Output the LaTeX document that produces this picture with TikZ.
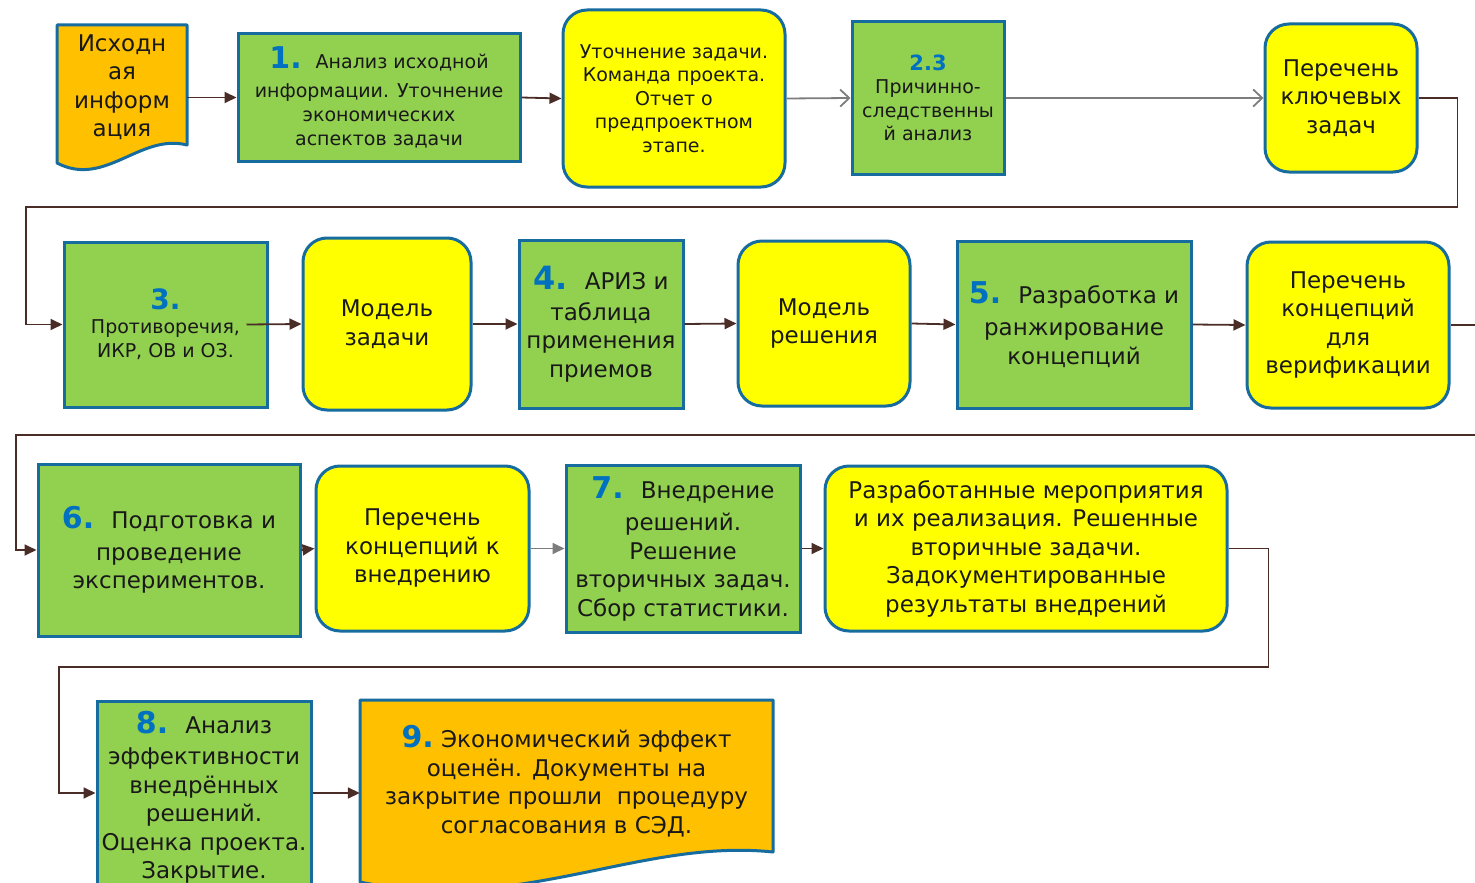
\documentclass[tikz,border=0pt]{standalone}
\usepackage{fontspec}
\setmainfont{DejaVu Sans}
\usetikzlibrary{arrows.meta,calc}

\definecolor{boxline}{RGB}{22,108,158}
\definecolor{stepgreen}{RGB}{146,208,80}
\definecolor{noteyellow}{RGB}{255,255,0}
\definecolor{docorange}{RGB}{255,192,0}
\definecolor{numblue}{RGB}{0,112,192}
\definecolor{linkbrown}{RGB}{75,45,40}
\definecolor{linkgray}{RGB}{125,125,125}
\definecolor{inktext}{RGB}{25,25,25}

% big blue step number
\newcommand{\stepno}[2][30]{{\fontsize{#1}{#1}\selectfont\bfseries\color{numblue}#2}}

\tikzset{
  x=1pt, y=-1pt,
  greenbox/.style={draw=boxline, line width=3pt, fill=stepgreen, align=center,
                   inner sep=2pt, text=inktext},
  yellowbox/.style={draw=boxline, line width=3pt, fill=noteyellow, align=center,
                    rounded corners=24pt, inner sep=2pt, text=inktext},
  docshape/.style={draw=boxline, line width=3pt, fill=docorange, line join=round},
  doctext/.style={align=center, inner sep=0pt, text=inktext},
  link/.style={draw=linkbrown, line width=1.8pt, -{Triangle[length=12pt,width=11pt]}},
  graylink/.style={draw=linkgray, line width=1.8pt, -{Straight Barb[length=9pt,width=17pt]}},
  grayfilled/.style={draw=linkgray, line width=1.8pt, -{Triangle[length=12pt,width=11pt]}},
  small/.style={font=\fontsize{19}{23.5}\selectfont},
  mid/.style={font=\fontsize{19}{24}\selectfont},
  big/.style={font=\fontsize{23}{28.5}\selectfont},
}

\begin{document}
\begin{tikzpicture}
\useasboundingbox (0,0) rectangle (1475,883);
\clip (0,0) rectangle (1475,883);

% ---------- row 1 ----------
\draw[docshape] (57,25) -- (187,25) -- (187,145)
  .. controls (140,133) and (105,188) .. (57,163) -- cycle;
\node[doctext, font=\fontsize{23}{28.5}\selectfont, minimum width=130pt] (d0) at (122,87)
  {Исходн\\ая\\информ\\ация};

\node[greenbox, mid, minimum width=282pt, minimum height=127pt] (b1) at (379,97.5)
  {\stepno{1.}~ Анализ исходной\\[5pt]информации. Уточнение\\экономических\\аспектов задачи};

\node[yellowbox, small, minimum width=222pt, minimum height=177pt] (u) at (674,98.5)
  {Уточнение задачи.\\Команда проекта.\\Отчет о\\предпроектном\\этапе.};

\node[greenbox, small, minimum width=152pt, minimum height=152pt] (b23) at (928,98)
  {\stepno[21]{2.3}\\Причинно-\\следственны\\й анализ};

\node[yellowbox, big, minimum width=152pt, minimum height=148pt] (k) at (1341,98)
  {Перечень\\ключевых\\задач};

% ---------- row 2 ----------
\node[greenbox, mid, minimum width=203pt, minimum height=165pt] (b3) at (165.5,324.5)
  {\stepno[28]{3.}\\Противоречия,\\ИКР, ОВ и ОЗ.};

\node[yellowbox, big, minimum width=168pt, minimum height=172pt] (mz) at (387,324)
  {Модель\\задачи};

\node[greenbox, big, minimum width=164pt, minimum height=168pt] (b4) at (601,324)
  {\stepno[32]{4.}~ АРИЗ и\\[2pt]таблица\\применения\\приемов};

\node[yellowbox, big, minimum width=172pt, minimum height=165pt] (mr) at (824,323.5)
  {Модель\\решения};

\node[greenbox, big, minimum width=234pt, minimum height=167pt] (b5) at (1074,324.5)
  {\stepno{5.}~ Разработка и\\[4pt]ранжирование\\концепций};

\node[yellowbox, big, minimum width=202pt, minimum height=166pt] (v) at (1348,325)
  {Перечень\\концепций\\для\\верификации};

% ---------- row 3 ----------
\node[greenbox, big, minimum width=262pt, minimum height=172pt] (b6) at (169,550)
  {\stepno{6.}~ Подготовка и\\[3pt]проведение\\экспериментов.};

\node[yellowbox, big, minimum width=213pt, minimum height=165pt] (kv) at (422.5,548.5)
  {Перечень\\концепций к\\внедрению};

\node[greenbox, big, minimum width=234pt, minimum height=167pt] (b7) at (683,548.5)
  {\stepno{7.}~ Внедрение\\[4pt]решений.\\Решение\\вторичных задач.\\Сбор статистики.};

\node[yellowbox, big, minimum width=402pt, minimum height=165pt] (r) at (1026,548.5)
  {Разработанные мероприятия\\и их реализация. Решенные\\вторичные задачи.\\Задокументированные\\результаты внедрений};

% ---------- row 4 ----------
\node[greenbox, big, minimum width=214pt, minimum height=192pt] (b8) at (204,797)
  {\stepno{8.}~ Анализ\\[3pt]эффективности\\внедрённых\\решений.\\Оценка проекта.\\Закрытие.};

\draw[docshape] (360,700) -- (773,700) -- (773,852)
  .. controls (640,838) and (520,915) .. (360,882) -- cycle;
\node[doctext, big, minimum width=413pt] (d9) at (566.5,781)
  {\stepno{9.}~Экономический эффект\\оценён. Документы на\\закрытие прошли~ процедуру\\согласования в СЭД.};

% ---------- connectors ----------
\draw[link] (d0.east |- b1.west) -- (b1.west);
\draw[link] (b1.east) -- (u.west);
\draw[graylink] (u.east) -- (b23.west);
\draw[graylink] (b23.east) -- (k.west);
\draw[link] (k.east) -- ++(39,0) |- (26,207) |- (b3.west);

\draw[link] ([xshift=-22pt]b3.east) -- (mz.west);
\draw[link] (mz.east) -- (b4.west);
\draw[link] (b4.east) -- (mr.west);
\draw[link] (mr.east) -- (b5.west);
\draw[link] (b5.east) -- (v.west);
\draw[link] (v.east) -- ++(45,0) |- (16,435) |- (b6.west);

\draw[link] (b6.east) -- (kv.west);
\draw[grayfilled] (kv.east) -- (b7.west);
\draw[link] (b7.east) -- (r.west);
\draw[link] (r.east) -- ++(40,0) |- (59,667) |- ([yshift=4pt]b8.west);

\draw[link] ([yshift=4pt]b8.east) -- ([yshift=4pt]b8.east -| d9.west);
\end{tikzpicture}
\end{document}
